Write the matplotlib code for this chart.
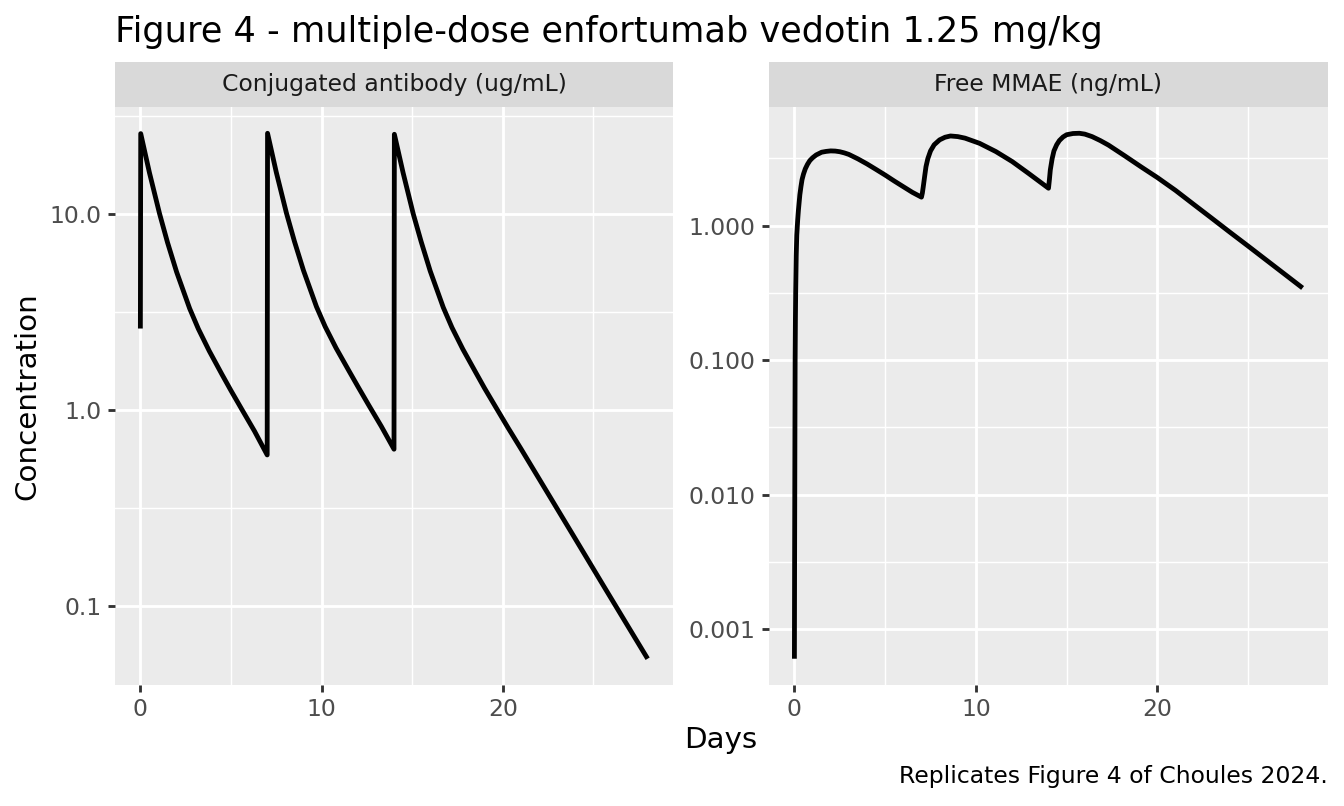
"""Multiple-dose enfortumab vedotin concentration-time profiles (ggplot-like facets)."""

import matplotlib
matplotlib.use("Agg")
import matplotlib.pyplot as plt
from matplotlib.ticker import FixedLocator, NullFormatter
import numpy as np

# conjugated antibody (ug/mL)
conj_days = [0.0, 0.02, 0.5, 1.06, 1.5, 2.0, 2.72, 3.2, 3.8, 4.5, 5.0, 5.6, 6.3, 7.0,
             7.02, 7.5, 8.06, 8.5, 9.0, 9.72, 10.2, 10.8, 11.5, 12.0, 12.6, 13.3, 14.0,
             14.02, 14.5, 15.06, 15.5, 16.0, 16.72, 17.2, 17.8, 18.5, 19.0, 19.6,
             20.3, 21.0, 22.5, 24.0, 25.5, 27.0, 28.0]
conj_conc = [2.6, 25.6, 16.2, 10.0, 7.13, 5.05, 3.29, 2.59, 2.0, 1.52, 1.256, 1.007, 0.78, 0.59,
             25.7, 16.3, 10.1, 7.25, 5.15, 3.36, 2.66, 2.07, 1.59, 1.32, 1.06, 0.825, 0.631,
             25.4, 16.2, 10.0, 7.2, 5.1, 3.33, 2.63, 2.04, 1.56, 1.29, 1.04,
             0.81, 0.636, 0.375, 0.221, 0.130, 0.0767, 0.054]

# free MMAE (ng/mL)
mmae_days = [0.0, 0.01, 0.02, 0.03, 0.04, 0.055, 0.07, 0.1, 0.13, 0.18, 0.22, 0.3, 0.36,
             0.42, 0.5, 0.6, 0.72, 0.85, 1.0, 1.2, 1.5, 1.75, 2.0, 2.25, 2.5, 2.75, 3.0,
             3.5, 4.0, 4.5, 5.0, 5.5, 6.0, 6.5, 7.0,
             7.05, 7.1, 7.18, 7.25, 7.35, 7.5, 7.7, 8.0, 8.3, 8.6, 9.0, 9.4, 10.2, 11.1,
             12.0, 12.9, 14.0,
             14.05, 14.1, 14.2, 14.3, 14.45, 14.6, 14.8, 15.0, 15.35, 15.7, 16.0, 16.4,
             16.85, 17.3, 18.2, 19.1, 20.0, 21.0, 22.0, 23.0, 24.0, 25.0, 26.0, 27.0, 28.0]
mmae_conc = [0.0006, 0.003, 0.01, 0.035, 0.1, 0.2, 0.32, 0.6, 0.85, 1.1, 1.3, 1.7, 1.95,
             2.2, 2.42, 2.65, 2.86, 3.05, 3.2, 3.36, 3.52, 3.57, 3.60, 3.59, 3.55, 3.48, 3.39,
             3.14, 2.88, 2.62, 2.38, 2.15, 1.95, 1.77, 1.63,
             1.75, 1.95, 2.35, 2.75, 3.15, 3.6, 4.0, 4.35, 4.55, 4.65, 4.6, 4.48, 4.1, 3.56,
             3.0, 2.45, 1.9,
             2.2, 2.6, 3.15, 3.6, 4.0, 4.3, 4.57, 4.75, 4.85, 4.87, 4.8, 4.6,
             4.3, 3.98, 3.31, 2.74, 2.28, 1.83, 1.44, 1.135, 0.893, 0.705, 0.555, 0.437, 0.344]

panel_titles = ['Conjugated antibody (ug/mL)', 'Free MMAE (ng/mL)']
y_breaks = [[0.1, 1.0, 10.0], [0.001, 0.01, 0.1, 1.0]]
y_labels = [['0.1', '1.0', '10.0'], ['0.001', '0.010', '0.100', '1.000']]
x_breaks = [0, 10, 20]

W, H = 1344, 806
DPI = 192

GREY92 = '#EBEBEB'
GREY85 = '#D9D9D9'


def px_box(x0, y_top, x1, y_bot):
    return [x0 / W, 1 - y_bot / H, (x1 - x0) / W, (y_bot - y_top) / H]


def style_panel(ax, days, conc, breaks, labels):
    ax.set_facecolor(GREY92)
    for s in ax.spines.values():
        s.set_visible(False)
    ax.set_yscale('log')
    lo, hi = np.log10(min(conc)), np.log10(max(conc))
    pad = (hi - lo) * 0.05
    ax.set_ylim(10 ** (lo - pad), 10 ** (hi + pad))
    xpad = (max(days) - min(days)) * 0.05
    ax.set_xlim(min(days) - xpad, max(days) + xpad)

    ax.yaxis.set_major_locator(FixedLocator(breaks))
    ax.set_yticklabels(labels)
    # minor breaks halfway between decades (log space)
    minors = [10 ** (np.log10(b) + 0.5) for b in breaks] + [10 ** (np.log10(breaks[0]) - 0.5)]
    ax.yaxis.set_minor_locator(FixedLocator(minors))
    ax.yaxis.set_minor_formatter(NullFormatter())
    ax.xaxis.set_major_locator(FixedLocator(x_breaks))
    ax.xaxis.set_minor_locator(FixedLocator([5, 15, 25]))

    ax.grid(which='major', color='white', linewidth=1.07)
    ax.grid(which='minor', color='white', linewidth=0.53)
    ax.set_axisbelow(True)
    ax.tick_params(which='major', length=2.75, width=1.07, color='#333333',
                   labelsize=8.8, labelcolor='#4D4D4D', pad=2.2)
    ax.tick_params(which='minor', length=0)

    ax.plot(days, conc, color='black', linewidth=1.8, solid_joinstyle='round',
            solid_capstyle='butt')


def add_strip(fig, x0, x1, text):
    sax = fig.add_axes(px_box(x0, 62, x1, 107))
    sax.set_facecolor(GREY85)
    sax.set_xticks([])
    sax.set_yticks([])
    for s in sax.spines.values():
        s.set_visible(False)
    sax.text(0.5, 0.5, text, ha='center', va='center', fontsize=8.8,
             color='#1A1A1A', transform=sax.transAxes)


def main():
    plt.rcParams['font.family'] = ['DejaVu Sans']
    fig = plt.figure(figsize=(W / DPI, H / DPI), dpi=DPI)

    panels = [(115, 673, conj_days, conj_conc), (769, 1328, mmae_days, mmae_conc)]
    for i, (x0, x1, d, c) in enumerate(panels):
        ax = fig.add_axes(px_box(x0, 107, x1, 685))
        style_panel(ax, d, c, y_breaks[i], y_labels[i])
        add_strip(fig, x0, x1, panel_titles[i])

    fig.text(115 / W, 1 - 42 / H, 'Figure 4 - multiple-dose enfortumab vedotin 1.25 mg/kg',
             ha='left', va='baseline', fontsize=13.2, color='black')
    fig.text(27 / W, 1 - 396 / H, 'Concentration', rotation=90, ha='center',
             va='center', fontsize=11, color='black')
    fig.text(721 / W, 1 - 748 / H, 'Days', ha='center', va='baseline',
             fontsize=11, color='black')
    fig.text(1328 / W, 1 - 783 / H, 'Replicates Figure 4 of Choules 2024.',
             ha='right', va='baseline', fontsize=8.8, color='black')

    fig.savefig('out.png', dpi=DPI, facecolor='white')


if __name__ == '__main__':
    main()
